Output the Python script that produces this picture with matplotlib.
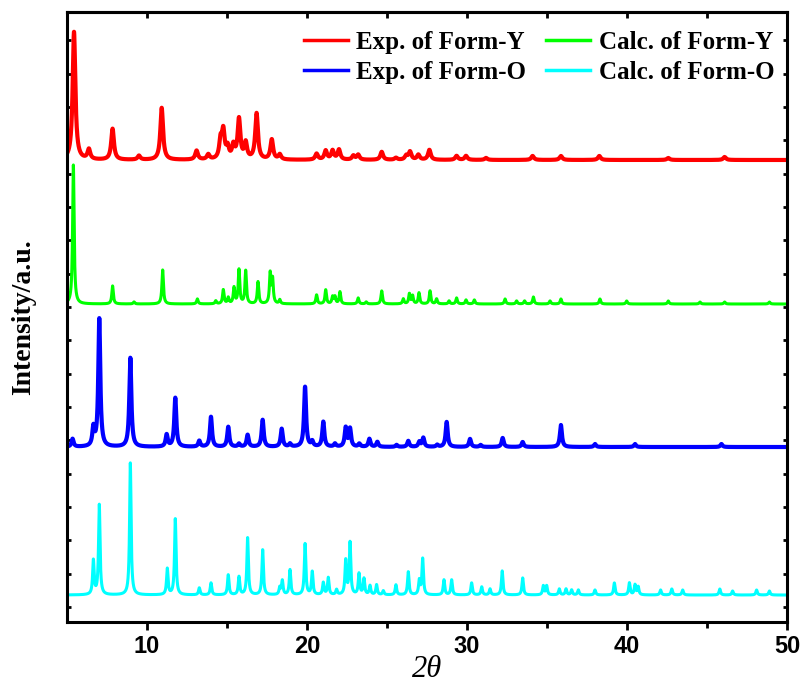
import numpy as np
import matplotlib
matplotlib.use("Agg")
import matplotlib.pyplot as plt
from matplotlib.ticker import FixedLocator
from matplotlib.font_manager import FontProperties

# ---- data: peak positions (2theta, deg) and heights (relative intensity) ----
exp_y_pos = [5.44, 6.37, 7.85, 9.5, 10.92, 13.1, 13.83, 14.6, 14.77, 15.04, 15.4, 15.75,
             16.17, 16.85, 17.8, 18.3, 20.6, 21.17, 21.6, 22.0, 22.9, 23.2, 24.67, 25.56,
             26.2, 26.44, 26.96, 27.65, 29.35, 29.94, 31.19, 34.1, 35.87, 38.27, 42.58, 46.1]
exp_y_int = [128, 10, 31, 4, 52, 9, 5, 18, 27, 11, 13, 40,
             16, 46, 20, 5, 6, 9, 9, 10, 4, 5, 8, 2,
             4, 8, 5, 10, 4, 4, 2, 4, 4, 4, 2, 3]

calc_y_pos = [5.4, 7.85, 9.19, 10.98, 13.15, 14.3, 14.77, 15.08, 15.44, 15.75, 16.17, 16.94,
              17.7, 17.85, 18.3, 20.6, 21.17, 21.6, 21.75, 22.06, 23.2, 23.7, 24.67, 26.02,
              26.4, 26.6, 27.0, 27.69, 28.1, 28.88, 29.35, 29.94, 30.46, 32.38, 33.1, 33.6,
              34.15, 35.19, 35.87, 38.31, 39.98, 42.58, 44.56, 46.1, 48.9]
calc_y_int = [139, 18, 2, 34, 5, 3, 14, 6, 16, 34, 33, 22,
              30, 24, 4, 9, 14, 7, 7, 12, 6, 2, 13, 5,
              10, 8, 11, 13, 5, 3, 6, 4, 4, 5, 3, 3,
              7, 3, 5, 5, 3, 3, 2, 2, 2]

exp_o_pos = [5.35, 6.65, 7.02, 8.96, 11.23, 11.77, 13.27, 14.0, 15.08, 15.75, 16.29, 17.23,
             18.42, 18.94, 19.88, 20.33, 21.02, 21.75, 22.42, 22.69, 23.27, 23.9, 24.4, 25.6,
             26.33, 27.02, 27.27, 28.14, 28.73, 30.19, 30.85, 32.23, 33.48, 35.87, 38.0,
             40.5, 45.9]
exp_o_int = [8, 18, 128, 89, 12, 49, 6, 30, 20, 3, 12, 27,
             18, 3, 60, 5, 25, 3, 19, 18, 3, 8, 5, 2,
             6, 5, 9, 2, 25, 8, 2, 9, 5, 22, 3,
             3, 3]

calc_o_pos = [6.65, 7.02, 8.96, 11.27, 11.77, 13.27, 14.0, 15.08, 15.75, 16.29, 17.23, 18.3,
              18.46, 18.94, 19.88, 20.33, 21.02, 21.33, 21.85, 22.42, 22.69, 23.25, 23.56,
              23.94, 24.35, 24.77, 25.56, 26.33, 27.02, 27.23, 28.56, 29.04, 30.29, 30.92,
              31.44, 32.2, 33.48, 34.77, 34.98, 35.77, 36.19, 36.54, 36.96, 38.0, 39.21,
              40.15, 40.5, 40.7, 42.1, 42.8, 43.48, 45.8, 46.6, 48.1, 48.9]
calc_o_int = [34, 90, 132, 26, 76, 7, 12, 20, 18, 57, 45, 7,
              14, 25, 51, 23, 12, 17, 5, 34, 52, 21, 16,
              9, 10, 4, 10, 23, 14, 36, 15, 15, 12, 8,
              6, 24, 17, 9, 9, 6, 6, 5, 5, 5, 12,
              12, 10, 8, 5, 6, 5, 6, 4, 5, 4]

labels = ["Exp. of Form-Y", "Calc. of Form-Y", "Exp. of Form-O", "Calc. of Form-O"]
offsets = [462, 318, 175, 27]

# ---- rendering ----
two_theta = np.linspace(5, 50, 9001)

def profile(pos, inten, fwhm):
    y = np.zeros_like(two_theta)
    hw = fwhm / 2.0
    for p, h in zip(pos, inten):
        y += h / (1.0 + ((two_theta - p) / hw) ** 2)
    return y

fig = plt.figure(figsize=(8.02, 6.84), dpi=100)
ax = fig.add_axes([0.0835, 0.0906, 0.8978, 0.8919])

series = [
    (exp_y_pos, exp_y_int, 0.20, "#FF0000", 3.0),
    (calc_y_pos, calc_y_int, 0.11, "#00FF00", 2.2),
    (exp_o_pos, exp_o_int, 0.15, "#0000FF", 3.0),
    (calc_o_pos, calc_o_int, 0.11, "#00FFFF", 2.2),
]
handles = []
for (pos, inten, w, c, lw), off, lab in zip(series, offsets, labels):
    ln, = ax.plot(two_theta, off + profile(pos, inten, w), color=c, lw=lw, label=lab)
    handles.append(ln)

ax.set_xlim(5, 50)
ax.set_ylim(0, 610)

for s in ax.spines.values():
    s.set_linewidth(2.2)

ax.xaxis.set_major_locator(FixedLocator([10, 20, 30, 40, 50]))
ax.xaxis.set_minor_locator(FixedLocator([15, 25, 35, 45]))
ax.yaxis.set_major_locator(FixedLocator([15 + 33.33 * k for k in range(18)]))
ax.tick_params(axis='x', which='both', direction='out', width=2, top=False)
ax.tick_params(axis='x', which='major', length=6)
ax.tick_params(axis='x', which='minor', length=4)
ax.tick_params(axis='y', which='major', direction='in', length=3, width=2,
               left=True, right=True, labelleft=False)

ax_top = ax.secondary_xaxis('top')
ax_top.set_xticks([10, 15, 20, 25, 30, 35, 40, 45])
ax_top.tick_params(direction='in', length=4, width=2, labeltop=False)
ax_top.spines['top'].set_linewidth(2.2)

tick_fp = FontProperties(family=['Liberation Sans Narrow', 'Liberation Sans'],
                         weight='bold', size=17)
for t in ax.get_xticklabels():
    t.set_fontproperties(tick_fp)
ax.tick_params(axis='x', pad=3)

ax.set_xlabel('2θ', family=['Liberation Serif'], style='italic', size=22, labelpad=-2)
ax.set_ylabel('Intensity/a.u.', family=['Liberation Serif'], weight='bold', size=20,
              labelpad=22)

order = [handles[0], handles[2], handles[1], handles[3]]
leg = ax.legend(order, [h.get_label() for h in order], ncol=2, loc='upper right',
                bbox_to_anchor=(1.0, 0.99),
                frameon=False, handlelength=1.75, handletextpad=0.35, columnspacing=0.8,
                labelspacing=0.3, borderaxespad=0.1,
                prop=dict(family='Liberation Serif', weight='bold', size=18))
for l in leg.get_lines():
    l.set_linewidth(2.5)

fig.savefig('out.png', dpi=100)
